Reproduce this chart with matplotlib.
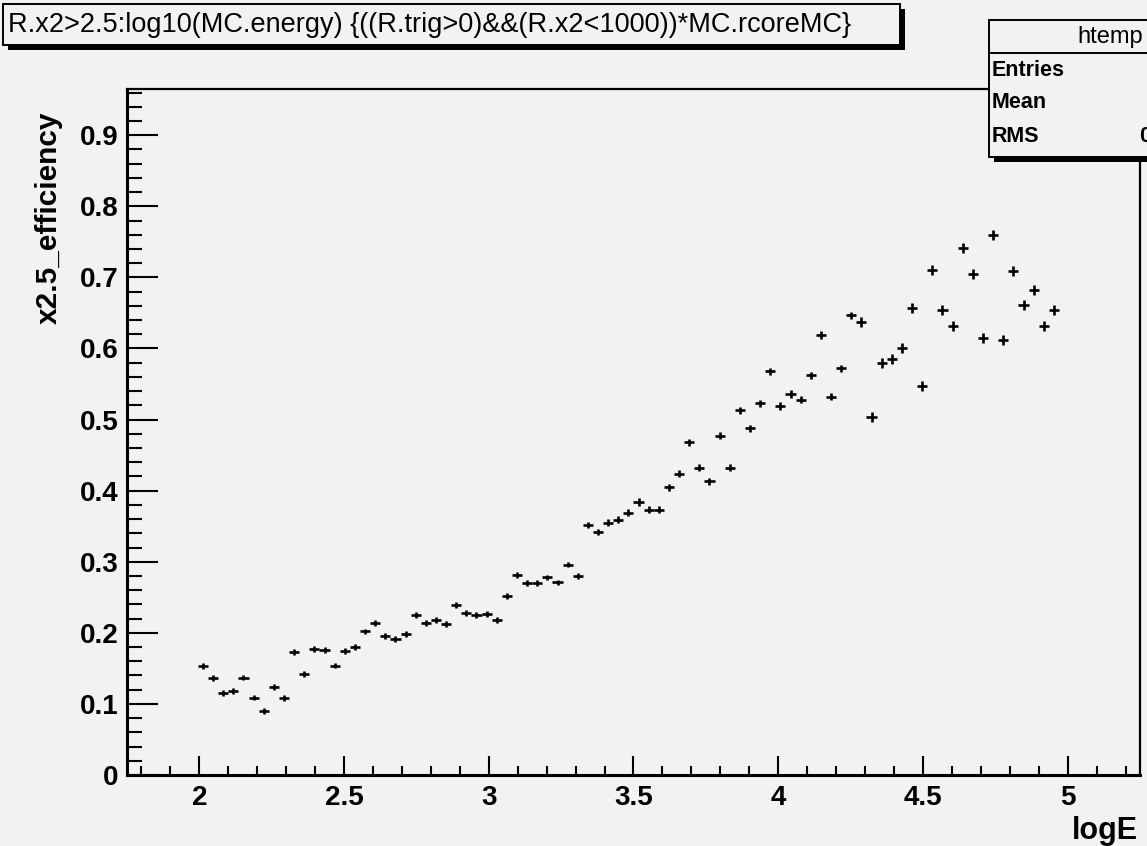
import matplotlib
matplotlib.use("Agg")
import matplotlib.pyplot as plt
from matplotlib.patches import Rectangle
from matplotlib.ticker import MultipleLocator, FixedLocator, FixedFormatter

plt.rcParams['font.family'] = ['Liberation Sans', 'DejaVu Sans']

# ---------------- data ----------------
log_e = [2.0125, 2.0475, 2.0825, 2.1175, 2.1525, 2.1875, 2.2225, 2.2575, 2.2925, 2.3275,
         2.3625, 2.3975, 2.4325, 2.4675, 2.5025, 2.5375, 2.5725, 2.6075, 2.6425, 2.6775,
         2.7125, 2.7475, 2.7825, 2.8175, 2.8525, 2.8875, 2.9225, 2.9575, 2.9925, 3.0275,
         3.0625, 3.0975, 3.1325, 3.1675, 3.2025, 3.2375, 3.2725, 3.3075, 3.3425, 3.3775,
         3.4125, 3.4475, 3.4825, 3.5175, 3.5525, 3.5875, 3.6225, 3.6575, 3.6925, 3.7275,
         3.7625, 3.7975, 3.8325, 3.8675, 3.9025, 3.9375, 3.9725, 4.0075, 4.0425, 4.0775,
         4.1125, 4.1475, 4.1825, 4.2175, 4.2525, 4.2875, 4.3225, 4.3575, 4.3925, 4.4275,
         4.4625, 4.4975, 4.5325, 4.5675, 4.6025, 4.6375, 4.6725, 4.7075, 4.7425, 4.7775,
         4.8125, 4.8475, 4.8825, 4.9175, 4.9525]
efficiency = [0.153, 0.136, 0.115, 0.118, 0.137, 0.109, 0.090, 0.124, 0.108, 0.173,
              0.142, 0.177, 0.176, 0.154, 0.174, 0.180, 0.202, 0.214, 0.196, 0.191,
              0.198, 0.225, 0.214, 0.218, 0.212, 0.239, 0.228, 0.225, 0.226, 0.218,
              0.252, 0.281, 0.270, 0.270, 0.278, 0.271, 0.296, 0.280, 0.352, 0.342,
              0.355, 0.359, 0.369, 0.384, 0.373, 0.373, 0.405, 0.424, 0.468, 0.432,
              0.413, 0.477, 0.432, 0.513, 0.488, 0.523, 0.568, 0.519, 0.536, 0.528,
              0.562, 0.619, 0.532, 0.572, 0.647, 0.637, 0.503, 0.579, 0.585, 0.600,
              0.657, 0.547, 0.710, 0.654, 0.631, 0.741, 0.705, 0.615, 0.760, 0.612,
              0.709, 0.661, 0.682, 0.631, 0.654]
eff_err = [0.004] * 40 + [0.005] * 25 + [0.007] * 20
half_bin = 0.0175

x_ticks = [2, 2.5, 3, 3.5, 4, 4.5, 5]
x_tick_labels = ['2', '2.5', '3', '3.5', '4', '4.5', '5']
y_ticks = [0, 0.1, 0.2, 0.3, 0.4, 0.5, 0.6, 0.7, 0.8, 0.9]
y_tick_labels = ['0', '0.1', '0.2', '0.3', '0.4', '0.5', '0.6', '0.7', '0.8', '0.9']

title_text = "R.x2>2.5:log10(MC.energy) {((R.trig>0)&&(R.x2<1000))*MC.rcoreMC}"
stats_name = "htemp"
stats_rows = ["Entries", "Mean", "RMS"]

# ---------------- figure ----------------
W, H = 1147, 846
BG = '#f4f1f5'
fig = plt.figure(figsize=(W / 100, H / 100), dpi=100, facecolor=BG)


def fx(x):
    return x / W


def fy(y):
    return 1 - y / H


ax = fig.add_axes([fx(127), fy(775), fx(1140 - 127), (775 - 89) / H])
ax.set_facecolor(BG)
ax.errorbar(log_e, efficiency, xerr=half_bin, yerr=eff_err, fmt='none',
            ecolor='black', elinewidth=1.9, capsize=0)
ax.set_xlim(1.75, 5.25)
ax.set_ylim(0, 0.965)

ax.xaxis.set_major_locator(FixedLocator(x_ticks))
ax.xaxis.set_major_formatter(FixedFormatter(x_tick_labels))
ax.xaxis.set_minor_locator(MultipleLocator(0.1))
ax.yaxis.set_major_locator(FixedLocator(y_ticks))
ax.yaxis.set_major_formatter(FixedFormatter(y_tick_labels))
ax.yaxis.set_minor_locator(MultipleLocator(0.02))

ax.tick_params(axis='both', which='both', direction='in', width=1.5, color='black',
               top=False, right=False)
ax.tick_params(axis='x', which='major', length=13.5, pad=7, labelsize=20)
ax.tick_params(axis='x', which='minor', length=6.5)
ax.tick_params(axis='y', which='major', length=22, pad=6, labelsize=20)
ax.tick_params(axis='y', which='minor', length=11)
for lab in ax.get_xticklabels() + ax.get_yticklabels():
    lab.set_fontweight('bold')
for s in ['left', 'bottom']:
    ax.spines[s].set_linewidth(2.2)
for s in ['top', 'right']:
    ax.spines[s].set_linewidth(1.6)

# axis titles
fig.text(fx(49), fy(112), "x2.5_efficiency", rotation=90, ha='center', va='top',
         fontsize=21.5, fontweight='bold')
fig.text(fx(1138), fy(831), "logE", ha='right', va='center',
         fontsize=22, fontweight='bold')


def box(x0, y0, x1, y1, shadow=5):
    fig.add_artist(Rectangle((fx(x0 + shadow), fy(y1 + shadow)), fx(x1 - x0), (y1 - y0) / H,
                             transform=fig.transFigure, facecolor='black',
                             edgecolor='none', zorder=5))
    fig.add_artist(Rectangle((fx(x0), fy(y1)), fx(x1 - x0), (y1 - y0) / H,
                             transform=fig.transFigure, facecolor=BG,
                             edgecolor='black', linewidth=1.4, zorder=6))


# title box
box(3, 4, 900, 45)
fig.text(fx(8), fy(25), title_text, ha='left', va='center', fontsize=19.5, zorder=7)

# stats box
box(989, 20, 1245, 157)
fig.add_artist(plt.Line2D([fx(989), fx(1245)], [fy(53), fy(53)], transform=fig.transFigure,
                          color='black', linewidth=1.4, zorder=7))
fig.text(fx(1077), fy(37), stats_name, ha='left', va='center', fontsize=17,
         zorder=8)
for i, r in enumerate(stats_rows):
    fig.text(fx(992), fy(70 + 33 * i), r, ha='left', va='center', fontsize=15.5,
             fontweight='bold', zorder=8)
fig.text(fx(1139), fy(136), "0.7261", ha='left', va='center', fontsize=15.5,
         fontweight='bold', zorder=8)

fig.savefig("out.png", dpi=100, facecolor=BG)
